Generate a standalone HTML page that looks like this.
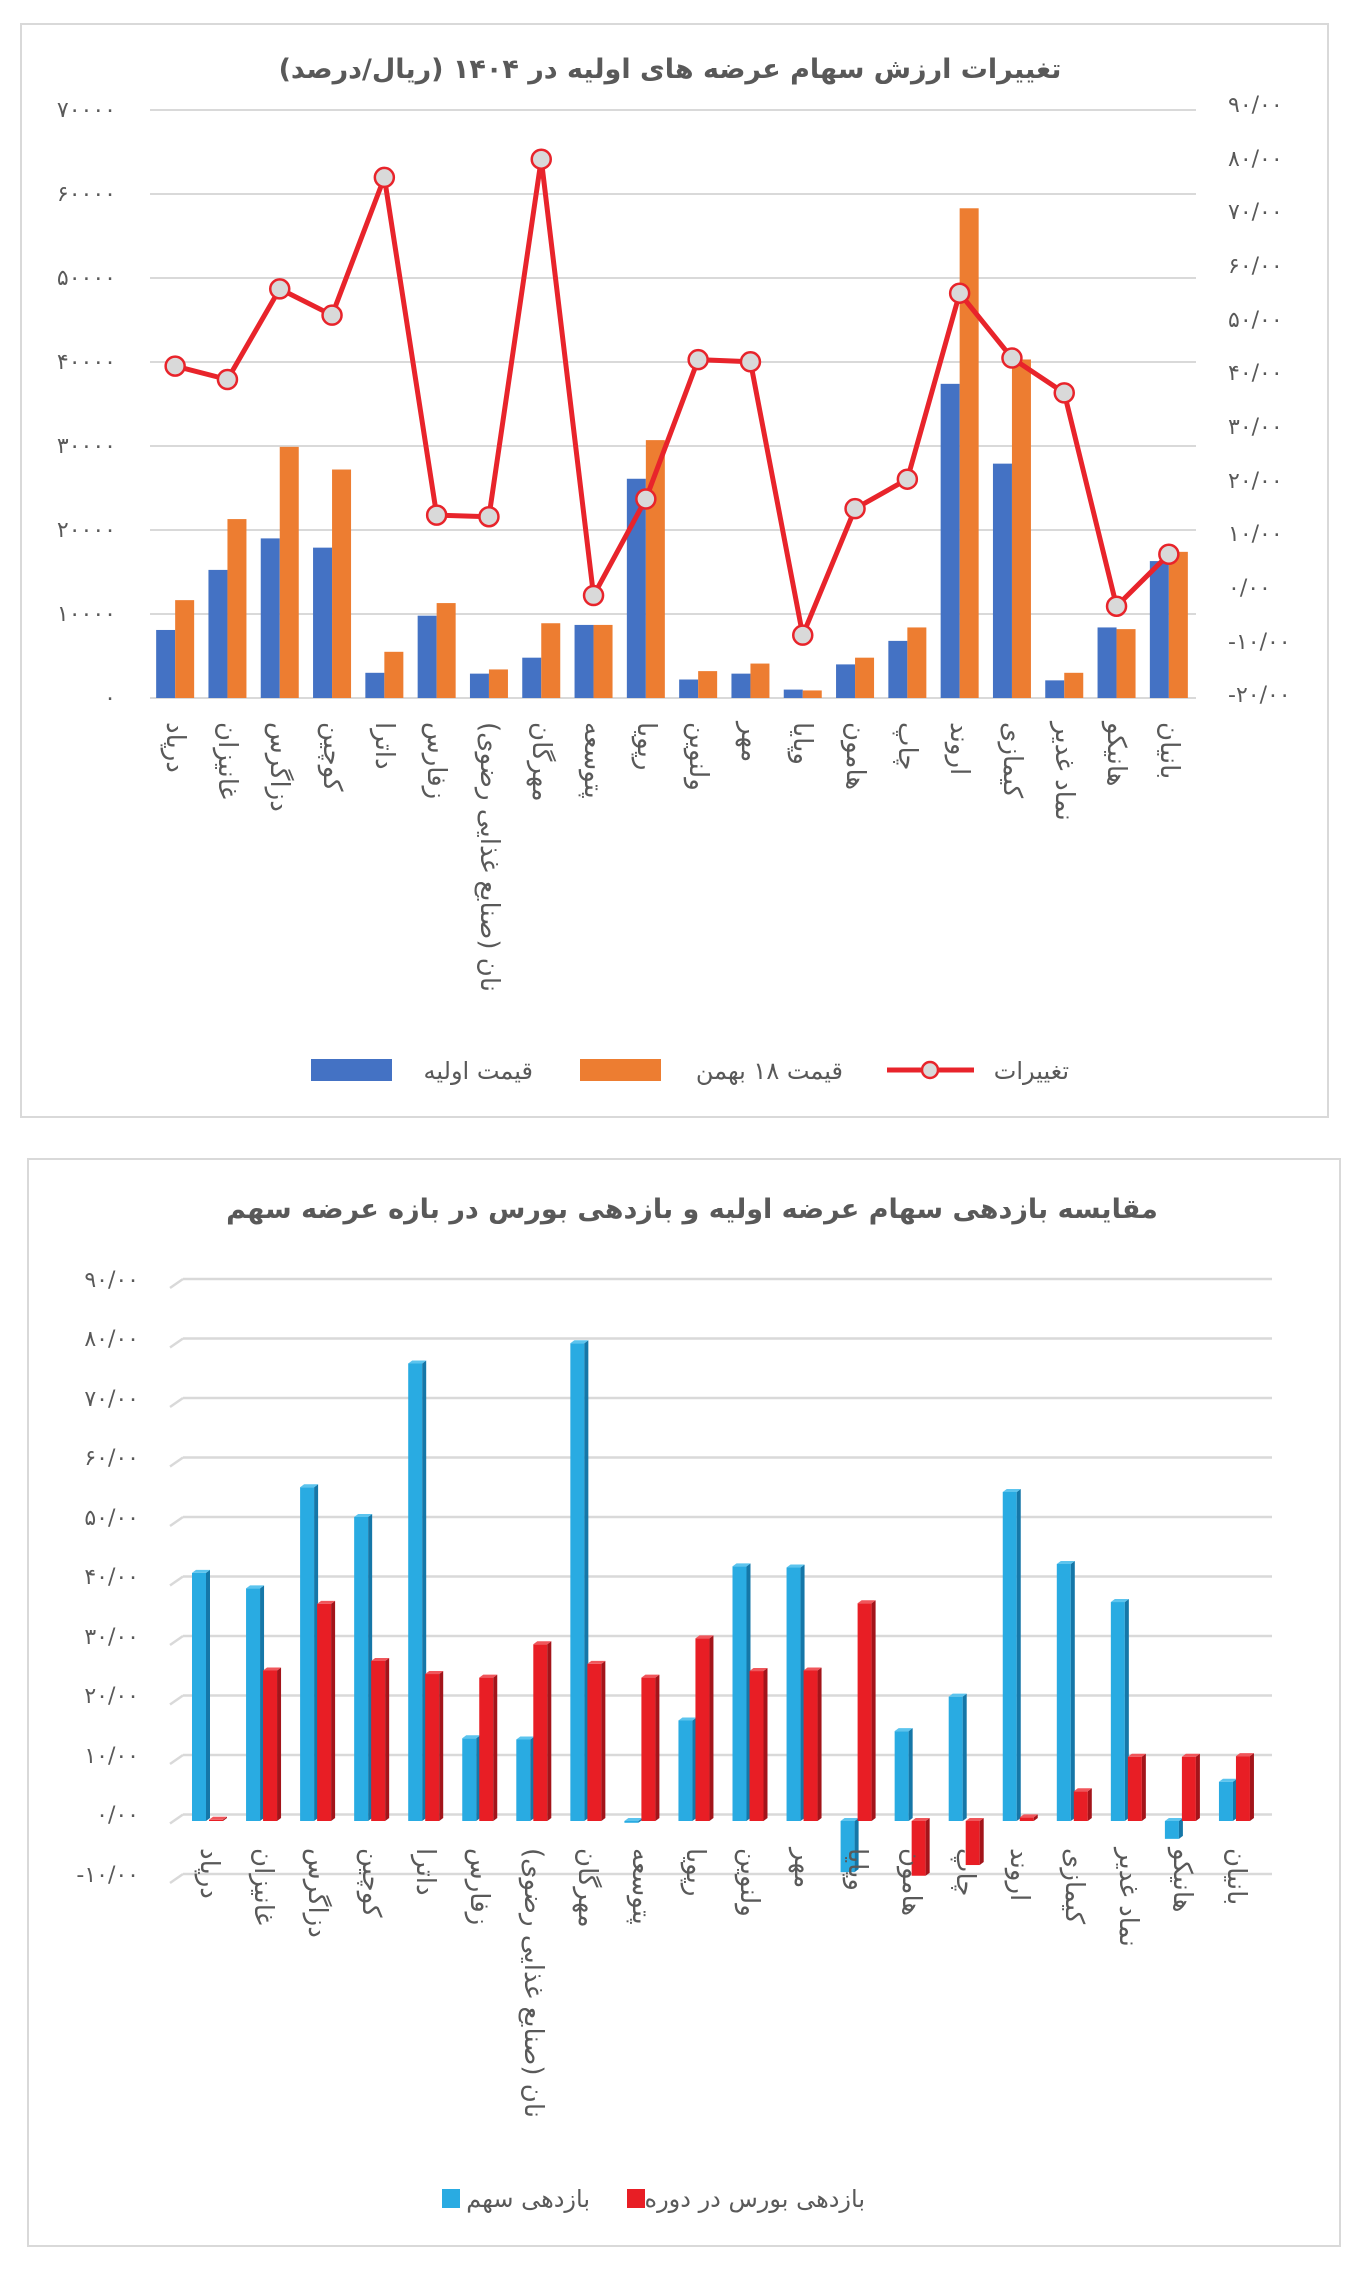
<!DOCTYPE html>
<html><head><meta charset="utf-8">
<style>
html,body{margin:0;padding:0;background:#fff;}
svg{display:block;}
text{font-family:"DejaVu Sans","Liberation Sans",sans-serif;fill:#595959;}
</style></head>
<body>
<svg id="s" xmlns="http://www.w3.org/2000/svg" width="1366" height="2272" viewBox="0 0 1366 2272">
<rect x="0" y="0" width="1366" height="2272" fill="#fff"/>
<rect x="21" y="24" width="1307" height="1093" fill="none" stroke="#d9d9d9" stroke-width="2"/>
<text x="670" y="78" text-anchor="middle" font-size="27" font-weight="bold" direction="rtl">تغییرات ارزش سهام عرضه های اولیه در ۱۴۰۴ (ریال/درصد)</text>
<g id="g1"></g>
<g font-size="22" text-anchor="end">
<text x="116" y="117">۷۰۰۰۰</text><text x="116" y="201">۶۰۰۰۰</text><text x="116" y="285">۵۰۰۰۰</text><text x="116" y="369">۴۰۰۰۰</text><text x="116" y="453">۳۰۰۰۰</text><text x="116" y="537">۲۰۰۰۰</text><text x="116" y="621">۱۰۰۰۰</text><text x="116" y="705">۰</text>
</g>
<g font-size="22" text-anchor="start">
<text x="1228" y="112">۹۰/۰۰</text><text x="1228" y="166">۸۰/۰۰</text><text x="1228" y="219">۷۰/۰۰</text><text x="1228" y="273">۶۰/۰۰</text><text x="1228" y="327">۵۰/۰۰</text><text x="1228" y="380">۴۰/۰۰</text><text x="1228" y="434">۳۰/۰۰</text><text x="1228" y="488">۲۰/۰۰</text><text x="1228" y="541">۱۰/۰۰</text><text x="1228" y="595">۰/۰۰</text><text x="1228" y="649">-۱۰/۰۰</text><text x="1228" y="702">-۲۰/۰۰</text>
</g>
<rect x="311" y="1059" width="81" height="22" fill="#4472c4"/>
<text x="533" y="1079" text-anchor="end" font-size="24">قیمت اولیه</text>
<rect x="580" y="1059" width="81" height="22" fill="#ed7d31"/>
<text x="843" y="1079" text-anchor="end" font-size="24">قیمت ۱۸ بهمن</text>
<line x1="887" y1="1070" x2="974" y2="1070" stroke="#e8242b" stroke-width="5"/>
<circle cx="930" cy="1070" r="8" fill="#d9d9d9" stroke="#e8242b" stroke-width="2.5"/>
<text x="1069" y="1079" text-anchor="end" font-size="24">تغییرات</text>

<rect x="28" y="1159" width="1312" height="1087" fill="none" stroke="#d9d9d9" stroke-width="2"/>
<text x="692" y="1218" text-anchor="middle" font-size="27" font-weight="bold" direction="rtl">مقایسه بازدهی سهام عرضه اولیه و بازدهی بورس در بازه عرضه سهم</text>
<g id="g2"></g>
<g font-size="22" text-anchor="end">
<text x="139" y="1287">۹۰/۰۰</text><text x="139" y="1346">۸۰/۰۰</text><text x="139" y="1406">۷۰/۰۰</text><text x="139" y="1465">۶۰/۰۰</text><text x="139" y="1525">۵۰/۰۰</text><text x="139" y="1584">۴۰/۰۰</text><text x="139" y="1644">۳۰/۰۰</text><text x="139" y="1703">۲۰/۰۰</text><text x="139" y="1763">۱۰/۰۰</text><text x="139" y="1822">۰/۰۰</text><text x="139" y="1882">-۱۰/۰۰</text>
</g>
<rect x="442" y="2189" width="18" height="19" fill="#29abe2"/>
<text x="590" y="2207" text-anchor="end" font-size="24">بازدهی سهم</text>
<rect x="627" y="2189" width="18" height="19" fill="#e81e25"/>
<text x="865" y="2207" text-anchor="end" font-size="24">بازدهی بورس در دوره</text>

<g font-size="26">
<text transform="translate(167,722) rotate(90)">درپاد</text>
<text transform="translate(219,722) rotate(90)">غانیزان</text>
<text transform="translate(271,722) rotate(90)">دزاگرس</text>
<text transform="translate(324,722) rotate(90)">کوچین</text>
<text transform="translate(376,722) rotate(90)">داترا</text>
<text transform="translate(428,722) rotate(90)">زفارس</text>
<text transform="translate(481,722) rotate(90)">نان (صنایع غذایی رضوی)</text>
<text transform="translate(533,722) rotate(90)">مهرگان</text>
<text transform="translate(585,722) rotate(90)">پتوسعه</text>
<text transform="translate(638,722) rotate(90)">رپویا</text>
<text transform="translate(690,722) rotate(90)">ولنوین</text>
<text transform="translate(742,722) rotate(90)">مهر</text>
<text transform="translate(794,722) rotate(90)">وپایا</text>
<text transform="translate(847,722) rotate(90)">هامون</text>
<text transform="translate(899,722) rotate(90)">چاپ</text>
<text transform="translate(951,722) rotate(90)">اروند</text>
<text transform="translate(1004,722) rotate(90)">کیمازی</text>
<text transform="translate(1056,722) rotate(90)">نماد غدیر</text>
<text transform="translate(1108,722) rotate(90)">هانیکو</text>
<text transform="translate(1161,722) rotate(90)">بانیان</text>
</g>
<g font-size="26">
<text transform="translate(201,1848) rotate(90)">درپاد</text>
<text transform="translate(255,1848) rotate(90)">غانیزان</text>
<text transform="translate(309,1848) rotate(90)">دزاگرس</text>
<text transform="translate(363,1848) rotate(90)">کوچین</text>
<text transform="translate(417,1848) rotate(90)">داترا</text>
<text transform="translate(471,1848) rotate(90)">زفارس</text>
<text transform="translate(525,1848) rotate(90)">نان (صنایع غذایی رضوی)</text>
<text transform="translate(579,1848) rotate(90)">مهرگان</text>
<text transform="translate(633,1848) rotate(90)">پتوسعه</text>
<text transform="translate(687,1848) rotate(90)">رپویا</text>
<text transform="translate(741,1848) rotate(90)">ولنوین</text>
<text transform="translate(795,1848) rotate(90)">مهر</text>
<text transform="translate(849,1848) rotate(90)">وپایا</text>
<text transform="translate(903,1848) rotate(90)">هامون</text>
<text transform="translate(957,1848) rotate(90)">چاپ</text>
<text transform="translate(1011,1848) rotate(90)">اروند</text>
<text transform="translate(1066,1848) rotate(90)">کیمازی</text>
<text transform="translate(1120,1848) rotate(90)">نماد غدیر</text>
<text transform="translate(1174,1848) rotate(90)">هانیکو</text>
<text transform="translate(1228,1848) rotate(90)">بانیان</text>
</g>
</svg>
<script>
var NS="http://www.w3.org/2000/svg";
function el(p,t,a){var e=document.createElementNS(NS,t);for(var k in a)e.setAttribute(k,a[k]);p.appendChild(e);return e;}
var g1=document.getElementById('g1');
for(var i=0;i<8;i++){var y=110+i*84;el(g1,'line',{x1:150,x2:1196,y1:y,y2:y,stroke:'#d9d9d9','stroke-width':2});}
var bl=[8100,15250,19000,17900,3000,9800,2900,4800,8700,26100,2200,2900,1000,4000,6800,37400,27900,2100,8400,16300];
var or=[11650,21300,29900,27200,5500,11300,3400,8900,8700,30700,3200,4100,900,4800,8400,58300,40300,3000,8200,17400];
var ln=[41.4,38.9,55.8,50.9,76.6,13.6,13.3,80,-1.4,16.6,42.6,42.2,-8.8,14.8,20.3,55,42.9,36.4,-3.4,6.3];
var pts=[];
for(var i=0;i<20;i++){
 var c=149+26.15+52.3*i;
 var hb=bl[i]*0.0084, ho=or[i]*0.0084;
 el(g1,'rect',{x:c-19,y:698-hb,width:19,height:hb,fill:'#4472c4'});
 el(g1,'rect',{x:c,y:698-ho,width:19,height:ho,fill:'#ed7d31'});
 pts.push(c+','+(588-ln[i]*5.36));
}
el(g1,'polyline',{points:pts.join(' '),fill:'none',stroke:'#e8242b','stroke-width':5,'stroke-linejoin':'round'});
pts.forEach(function(p){var a=p.split(',');el(g1,'circle',{cx:a[0],cy:a[1],r:9.5,fill:'#d9d9d9',stroke:'#e8242b','stroke-width':2.5});});

var g2=document.getElementById('g2');
for(var i=0;i<11;i++){var y=1279+i*59.5;
 el(g2,'line',{x1:183,x2:1272,y1:y,y2:y,stroke:'#d9d9d9','stroke-width':2.5});
 el(g2,'line',{x1:170,x2:183,y1:y+9,y2:y,stroke:'#d9d9d9','stroke-width':2.5});}
var b2=[41.7,39.1,56.1,51.1,76.9,13.9,13.7,80.3,-0.3,16.9,42.8,42.6,-8.6,15.1,20.9,55.3,43.2,36.8,-3,6.6];
var r2=[0.2,25.3,36.5,26.9,24.7,24.1,29.7,26.4,24.1,30.7,25.2,25.3,36.6,-9.2,-7.4,0.6,5,10.8,10.8,10.9];
function bar(x,v,f,s,t){
 var base=1821, top=base-v*5.95, y=Math.min(base,top), h=Math.abs(base-top);
 el(g2,'rect',{x:x,y:y,width:14,height:h,fill:f});
 el(g2,'polygon',{points:(x+14)+','+y+' '+(x+18)+','+(y-3)+' '+(x+18)+','+(y+h-3)+' '+(x+14)+','+(y+h),fill:s});
 el(g2,'polygon',{points:x+','+y+' '+(x+4)+','+(y-3)+' '+(x+18)+','+(y-3)+' '+(x+14)+','+y,fill:t});
}
for(var i=0;i<20;i++){
 var x=192+54.05*i;
 bar(x,b2[i],'#29abe2','#1577a8','#5cc4ee');
 bar(x+17,r2[i],'#e81e25','#a3141a','#f0565b');
}
</script>
</body></html>
